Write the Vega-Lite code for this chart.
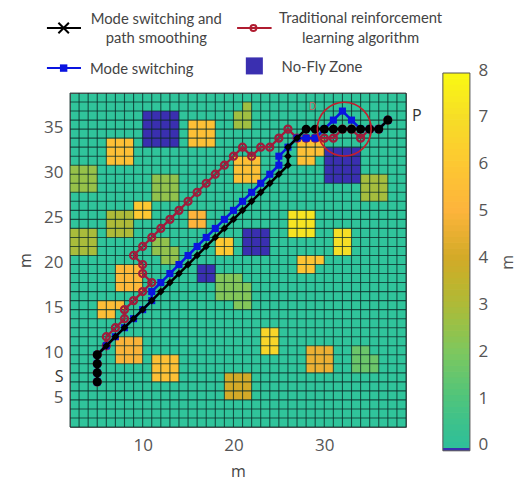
{
"$schema":"https://vega.github.io/schema/vega-lite/v6.json",
"width":336,"height":334,"autosize":"none",
"padding":{"left":70,"top":93,"right":115,"bottom":54},
"background":"white",
"view":{"fill":"#30c49b","stroke":"#666"},
"datasets":{
"nofly":[{"x":10,"x2":14,"y":33,"y2":37},{"x":30,"x2":34,"y":29,"y2":33},{"x":21,"x2":24,"y":21,"y2":24},{"x":16,"x2":18,"y":18,"y2":20}],
"blocks":[
{"x":15,"x2":18,"y":33,"y2":36,"v":5.6},{"x":6,"x2":9,"y":31,"y2":34,"v":5.6},{"x":20,"x2":23,"y":29,"y2":32,"v":5.6},{"x":27,"x2":30,"y":32,"y2":34,"v":5.6},{"x":27,"x2":29,"y":31,"y2":32,"v":5.6},
{"x":21,"x2":22,"y":35,"y2":38,"v":2.7},{"x":20,"x2":21,"y":35,"y2":37,"v":2.7},{"x":2,"x2":5,"y":28,"y2":31,"v":2.5},{"x":11,"x2":14,"y":27,"y2":30,"v":2.4},{"x":6,"x2":9,"y":23,"y2":26,"v":3},{"x":2,"x2":5,"y":21,"y2":24,"v":2.9},{"x":34,"x2":37,"y":27,"y2":30,"v":2.8},
{"x":9,"x2":11,"y":25,"y2":27,"v":6},{"x":15,"x2":17,"y":24,"y2":26,"v":5},{"x":18,"x2":20,"y":21,"y2":23,"v":6},
{"x":11,"x2":13,"y":21,"y2":23,"v":2.4},{"x":13,"x2":14,"y":21,"y2":22,"v":2.4},{"x":12,"x2":14,"y":20,"y2":21,"v":2.4},
{"x":26,"x2":29,"y":23,"y2":26,"v":7.2},{"x":31,"x2":33,"y":21,"y2":24,"v":7},{"x":27,"x2":30,"y":20,"y2":21,"v":5.8},{"x":27,"x2":29,"y":19,"y2":20,"v":5.8},
{"x":7,"x2":10,"y":17,"y2":20,"v":5.2},{"x":18,"x2":21,"y":16,"y2":19,"v":2.1},{"x":21,"x2":22,"y":15,"y2":18,"v":2.1},{"x":20,"x2":21,"y":15,"y2":16,"v":2.1},
{"x":5,"x2":8,"y":15,"y2":16,"v":5.5},{"x":5,"x2":7,"y":14,"y2":15,"v":5.5},{"x":7,"x2":10,"y":9,"y2":12,"v":4.9},{"x":11,"x2":14,"y":7,"y2":10,"v":5.6},{"x":19,"x2":22,"y":5,"y2":8,"v":4},
{"x":23,"x2":25,"y":10,"y2":13,"v":6.6},{"x":28,"x2":31,"y":8,"y2":11,"v":4.6},{"x":33,"x2":35,"y":10,"y2":11,"v":1.6},{"x":33,"x2":36,"y":8,"y2":10,"v":1.6}
],
"bar":[{"v":0,"w":0.14},{"v":0.125,"w":0.265},{"v":0.25,"w":0.39},{"v":0.375,"w":0.515},{"v":0.5,"w":0.64},{"v":0.625,"w":0.765},{"v":0.75,"w":0.89},{"v":0.875,"w":1.015},{"v":1,"w":1.14},{"v":1.125,"w":1.265},{"v":1.25,"w":1.39},{"v":1.375,"w":1.515},{"v":1.5,"w":1.64},{"v":1.625,"w":1.765},{"v":1.75,"w":1.89},{"v":1.875,"w":2.015},{"v":2,"w":2.14},{"v":2.125,"w":2.265},{"v":2.25,"w":2.39},{"v":2.375,"w":2.515},{"v":2.5,"w":2.64},{"v":2.625,"w":2.765},{"v":2.75,"w":2.89},{"v":2.875,"w":3.015},{"v":3,"w":3.14},{"v":3.125,"w":3.265},{"v":3.25,"w":3.39},{"v":3.375,"w":3.515},{"v":3.5,"w":3.64},{"v":3.625,"w":3.765},{"v":3.75,"w":3.89},{"v":3.875,"w":4.015},{"v":4,"w":4.14},{"v":4.125,"w":4.265},{"v":4.25,"w":4.39},{"v":4.375,"w":4.515},{"v":4.5,"w":4.64},{"v":4.625,"w":4.765},{"v":4.75,"w":4.89},{"v":4.875,"w":5.015},{"v":5,"w":5.14},{"v":5.125,"w":5.265},{"v":5.25,"w":5.39},{"v":5.375,"w":5.515},{"v":5.5,"w":5.64},{"v":5.625,"w":5.765},{"v":5.75,"w":5.89},{"v":5.875,"w":6.015},{"v":6,"w":6.14},{"v":6.125,"w":6.265},{"v":6.25,"w":6.39},{"v":6.375,"w":6.515},{"v":6.5,"w":6.64},{"v":6.625,"w":6.765},{"v":6.75,"w":6.89},{"v":6.875,"w":7.015},{"v":7,"w":7.14},{"v":7.125,"w":7.265},{"v":7.25,"w":7.39},{"v":7.375,"w":7.515},{"v":7.5,"w":7.64},{"v":7.625,"w":7.765},{"v":7.75,"w":7.89},{"v":7.875,"w":8}],
"grid":[{"n":2},{"n":3},{"n":4},{"n":5},{"n":6},{"n":7},{"n":8},{"n":9},{"n":10},{"n":11},{"n":12},{"n":13},{"n":14},{"n":15},{"n":16},{"n":17},{"n":18},{"n":19},{"n":20},{"n":21},{"n":22},{"n":23},{"n":24},{"n":25},{"n":26},{"n":27},{"n":28},{"n":29},{"n":30},{"n":31},{"n":32},{"n":33},{"n":34},{"n":35},{"n":36},{"n":37},{"n":38},{"n":39}],
"red":[{"x":5,"y":7},{"x":5,"y":8},{"x":5,"y":9},{"x":5,"y":10},{"x":6,"y":11},{"x":6,"y":12},{"x":7,"y":13},{"x":8,"y":14},{"x":8,"y":15},{"x":9,"y":16},{"x":10,"y":17},{"x":11,"y":18},{"x":10,"y":19},{"x":10,"y":20},{"x":9,"y":21},{"x":10,"y":22},{"x":11,"y":23},{"x":12,"y":24},{"x":13,"y":25},{"x":14,"y":26},{"x":15,"y":27},{"x":16,"y":28},{"x":17,"y":29},{"x":18,"y":30},{"x":19,"y":31},{"x":20,"y":32},{"x":21,"y":33},{"x":22,"y":32},{"x":23,"y":33},{"x":24,"y":33},{"x":25,"y":34},{"x":26,"y":35},{"x":27,"y":34},{"x":28,"y":34},{"x":29,"y":34},{"x":30,"y":34},{"x":31,"y":34},{"x":32,"y":35},{"x":33,"y":35},{"x":34,"y":34},{"x":35,"y":35},{"x":36,"y":35},{"x":37,"y":36}],
"blue":[{"x":5,"y":7},{"x":5,"y":8},{"x":5,"y":9},{"x":5,"y":10},{"x":6,"y":11},{"x":7,"y":12},{"x":8,"y":13},{"x":9,"y":14},{"x":10,"y":15},{"x":11,"y":16},{"x":11,"y":17},{"x":12,"y":18},{"x":13,"y":19},{"x":14,"y":20},{"x":15,"y":21},{"x":16,"y":22},{"x":17,"y":23},{"x":18,"y":24},{"x":19,"y":25},{"x":20,"y":26},{"x":21,"y":27},{"x":22,"y":28},{"x":23,"y":29},{"x":24,"y":30},{"x":25,"y":31},{"x":25,"y":32},{"x":26,"y":33},{"x":27,"y":34},{"x":28,"y":34},{"x":29,"y":34},{"x":30,"y":35},{"x":31,"y":36},{"x":32,"y":37},{"x":33,"y":36},{"x":34,"y":35},{"x":35,"y":35},{"x":36,"y":35},{"x":37,"y":36}],
"black":[{"x":5,"y":7},{"x":5,"y":8},{"x":5,"y":9},{"x":5,"y":10},{"x":6,"y":11},{"x":7,"y":12},{"x":8,"y":13},{"x":9,"y":14},{"x":10,"y":15},{"x":11,"y":16},{"x":12,"y":17},{"x":13,"y":18},{"x":14,"y":19},{"x":15,"y":20},{"x":16,"y":21},{"x":17,"y":22},{"x":18,"y":23},{"x":19,"y":24},{"x":20,"y":25},{"x":21,"y":26},{"x":22,"y":27},{"x":23,"y":28},{"x":24,"y":29},{"x":25,"y":30},{"x":26,"y":31},{"x":26,"y":32},{"x":26,"y":33},{"x":27,"y":34},{"x":28,"y":35},{"x":29,"y":35},{"x":30,"y":35},{"x":31,"y":35},{"x":32,"y":35},{"x":33,"y":35},{"x":34,"y":35},{"x":35,"y":35},{"x":36,"y":35},{"x":37,"y":36}]
},
"encoding":{
"x":{"field":"x","type":"quantitative","scale":{"domain":[2,39],"nice":false,"zero":false},"axis":{"values":[10,20,30],"ticks":false,"domain":false,"grid":false,"labelFont":"Open Sans","labelFontSize":17,"labelColor":"#555","labelPadding":10,"title":"m","titleFont":"Open Sans","titleFontSize":16,"titleFontWeight":"normal","titleColor":"#444","titlePadding":10}}
},
"resolve":{"scale":{"y":"independent"},"axis":{"y":"independent"}},
"layer":[
{"encoding":{"y":{"field":"y","type":"quantitative","scale":{"domain":[2,39],"nice":false,"zero":false},"axis":{"values":[5,10,15,20,25,30,35],"ticks":false,"domain":false,"grid":false,"labelFont":"Open Sans","labelFontSize":17,"labelColor":"#555","labelPadding":7,"labelOffset":-2,"title":"m","titleFont":"Open Sans","titleFontSize":16,"titleFontWeight":"normal","titleColor":"#444","titlePadding":10}}},
"layer":[
{"data":{"name":"nofly"},"mark":{"type":"rect","color":"#3a2fb0"},"encoding":{"x2":{"field":"x2"},"y2":{"field":"y2"}}},
{"data":{"name":"blocks"},"mark":{"type":"rect"},"encoding":{"x2":{"field":"x2"},"y2":{"field":"y2"},
 "color":{"field":"v","type":"quantitative","scale":{"domain":[0,1,2,3,4,5,6,7,8],"range":["#30bf98","#4fc47c","#7ec75e","#aeba38","#d3aa28","#fdb43c","#fdc832","#f6de26","#f9fb0e"]},"legend":null}}},
{"data":{"name":"grid"},"mark":{"type":"rule","color":"#0b2a26","strokeWidth":1.1,"opacity":0.75},"encoding":{"x":{"field":"n","type":"quantitative"},"y":{"value":0},"y2":{"value":334}}},
{"data":{"name":"grid"},"mark":{"type":"rule","color":"#0b2a26","strokeWidth":1.1,"opacity":0.75},"encoding":{"y":{"field":"n","type":"quantitative"},"x":{"value":0},"x2":{"value":336}}},
{"data":{"name":"red"},"transform":[{"window":[{"op":"row_number","as":"i"}]}],"mark":{"type":"line","color":"#a01c3c","strokeWidth":2.2},"encoding":{"order":{"field":"i","type":"quantitative"}}},
{"data":{"name":"red"},"mark":{"type":"point","shape":"circle","filled":false,"color":"#a01c3c","size":50,"strokeWidth":2.2,"opacity":1}},
{"data":{"name":"blue"},"transform":[{"window":[{"op":"row_number","as":"i"}]}],"mark":{"type":"line","color":"#0a14e0","strokeWidth":2.5},"encoding":{"order":{"field":"i","type":"quantitative"}}},
{"data":{"name":"blue"},"mark":{"type":"point","shape":"square","filled":true,"color":"#0a14e0","size":50,"opacity":1}},
{"data":{"name":"black"},"transform":[{"window":[{"op":"row_number","as":"i"}]}],"mark":{"type":"line","color":"#000","strokeWidth":2.5},"encoding":{"order":{"field":"i","type":"quantitative"}}},
{"data":{"name":"black"},"mark":{"type":"point","shape":"diamond","filled":true,"color":"#000","size":60,"opacity":1}},
{"data":{"name":"black"},"transform":[{"filter":"datum.x==5||datum.x==37||datum.y==35"}],"mark":{"type":"point","shape":"circle","filled":true,"color":"#000","size":80,"opacity":1}},
{"data":{"values":[{"x":32.2,"y":35}]},"mark":{"type":"point","shape":"circle","filled":false,"color":"#c41e2c","size":2900,"strokeWidth":1.6,"opacity":1}},
{"data":{"values":[{"x":28.7,"y":37.4,"t":"D"}]},"mark":{"type":"text","color":"#c8605a","fontSize":10,"font":"Open Sans"},"encoding":{"text":{"field":"t"}}},
{"data":{"values":[{"x":0.8,"y":7.5,"t":"S"},{"x":40.2,"y":36.4,"t":"P"}]},"mark":{"type":"text","color":"#333","fontSize":16,"font":"Open Sans"},"encoding":{"text":{"field":"t"}}},
{"data":{"values":[{"x":-0.54,"x2":3.21,"y":46.2}]},"mark":{"type":"rule","color":"#000","strokeWidth":2},"encoding":{"x2":{"field":"x2"}}},
{"data":{"values":[{"x":-0.54,"x2":3.21,"y":41.76}]},"mark":{"type":"rule","color":"#0a14e0","strokeWidth":2},"encoding":{"x2":{"field":"x2"}}},
{"data":{"values":[{"x":20.4,"x2":24.2,"y":46.2}]},"mark":{"type":"rule","color":"#b01c30","strokeWidth":2},"encoding":{"x2":{"field":"x2"}}},
{"data":{"values":[{"x":1.3,"y":46.2}]},"mark":{"type":"point","shape":"M-1,-1L1,1M1,-1L-1,1","filled":false,"color":"#000","size":110,"strokeWidth":2,"opacity":1}},
{"data":{"values":[{"x":1.3,"y":41.76}]},"mark":{"type":"point","shape":"square","filled":true,"color":"#0a14e0","size":55,"opacity":1}},
{"data":{"values":[{"x":22.2,"y":46.2}]},"mark":{"type":"point","shape":"circle","filled":false,"color":"#b01c30","size":35,"strokeWidth":2,"opacity":1}},
{"data":{"values":[{"x":22.3,"y":42}]},"mark":{"type":"point","shape":"square","filled":true,"color":"#3a2fb0","size":290,"opacity":1}},
{"data":{"values":[{"x":11.5,"y":47.1,"t":"Mode switching and"},{"x":11.5,"y":45,"t":"path smoothing"},{"x":34,"y":47.2,"t":"Traditional reinforcement"},{"x":34,"y":45,"t":"learning algorithm"}]},"mark":{"type":"text","align":"center","color":"#444","fontSize":14.8,"font":"Lato"},"encoding":{"text":{"field":"t"}}},
{"data":{"values":[{"x":4.2,"y":41.6,"t":"Mode switching"},{"x":25.3,"y":41.75,"t":"No-Fly Zone"}]},"mark":{"type":"text","align":"left","color":"#444","fontSize":14.8,"font":"Lato"},"encoding":{"text":{"field":"t"}}}
]},
{"encoding":{"y":{"field":"v","type":"quantitative","scale":{"domain":[-0.06,8],"range":[357.8,-20],"nice":false,"zero":false},"axis":{"orient":"right","offset":63,"values":[0,1,2,3,4,5,6,7,8],"grid":false,"domain":false,"tickSize":-4,"tickColor":"#444","labelFont":"Open Sans","labelFontSize":17,"labelColor":"#555","labelPadding":13,"labelOffset":-3,"labelFlush":false,"labelOverlap":false,"title":"m","titleFont":"Open Sans","titleFontSize":16,"titleFontWeight":"normal","titleColor":"#555","titleAngle":270,"titlePadding":28}},"y2":{"field":"w"},"x2":{"field":"x2"}},
"layer":[
{"data":{"name":"bar"},"transform":[{"calculate":"43.06","as":"x"},{"calculate":"46.04","as":"x2"}],"mark":{"type":"rect"},"encoding":{"color":{"field":"v","type":"quantitative","scale":{"domain":[0,1,2,3,4,5,6,7,8],"range":["#30bf98","#4fc47c","#7ec75e","#aeba38","#d3aa28","#fdb43c","#fdc832","#f6de26","#f9fb0e"]},"legend":null}}},
{"data":{"values":[{"v":-0.06,"w":0}]},"transform":[{"calculate":"43.06","as":"x"},{"calculate":"46.04","as":"x2"}],"mark":{"type":"rect","color":"#3a2fb0"}},
{"data":{"values":[{"v":-0.06,"w":8}]},"transform":[{"calculate":"43.06","as":"x"},{"calculate":"46.04","as":"x2"}],"mark":{"type":"rect","filled":false,"stroke":"#555","strokeWidth":1}}
]}
]
}
